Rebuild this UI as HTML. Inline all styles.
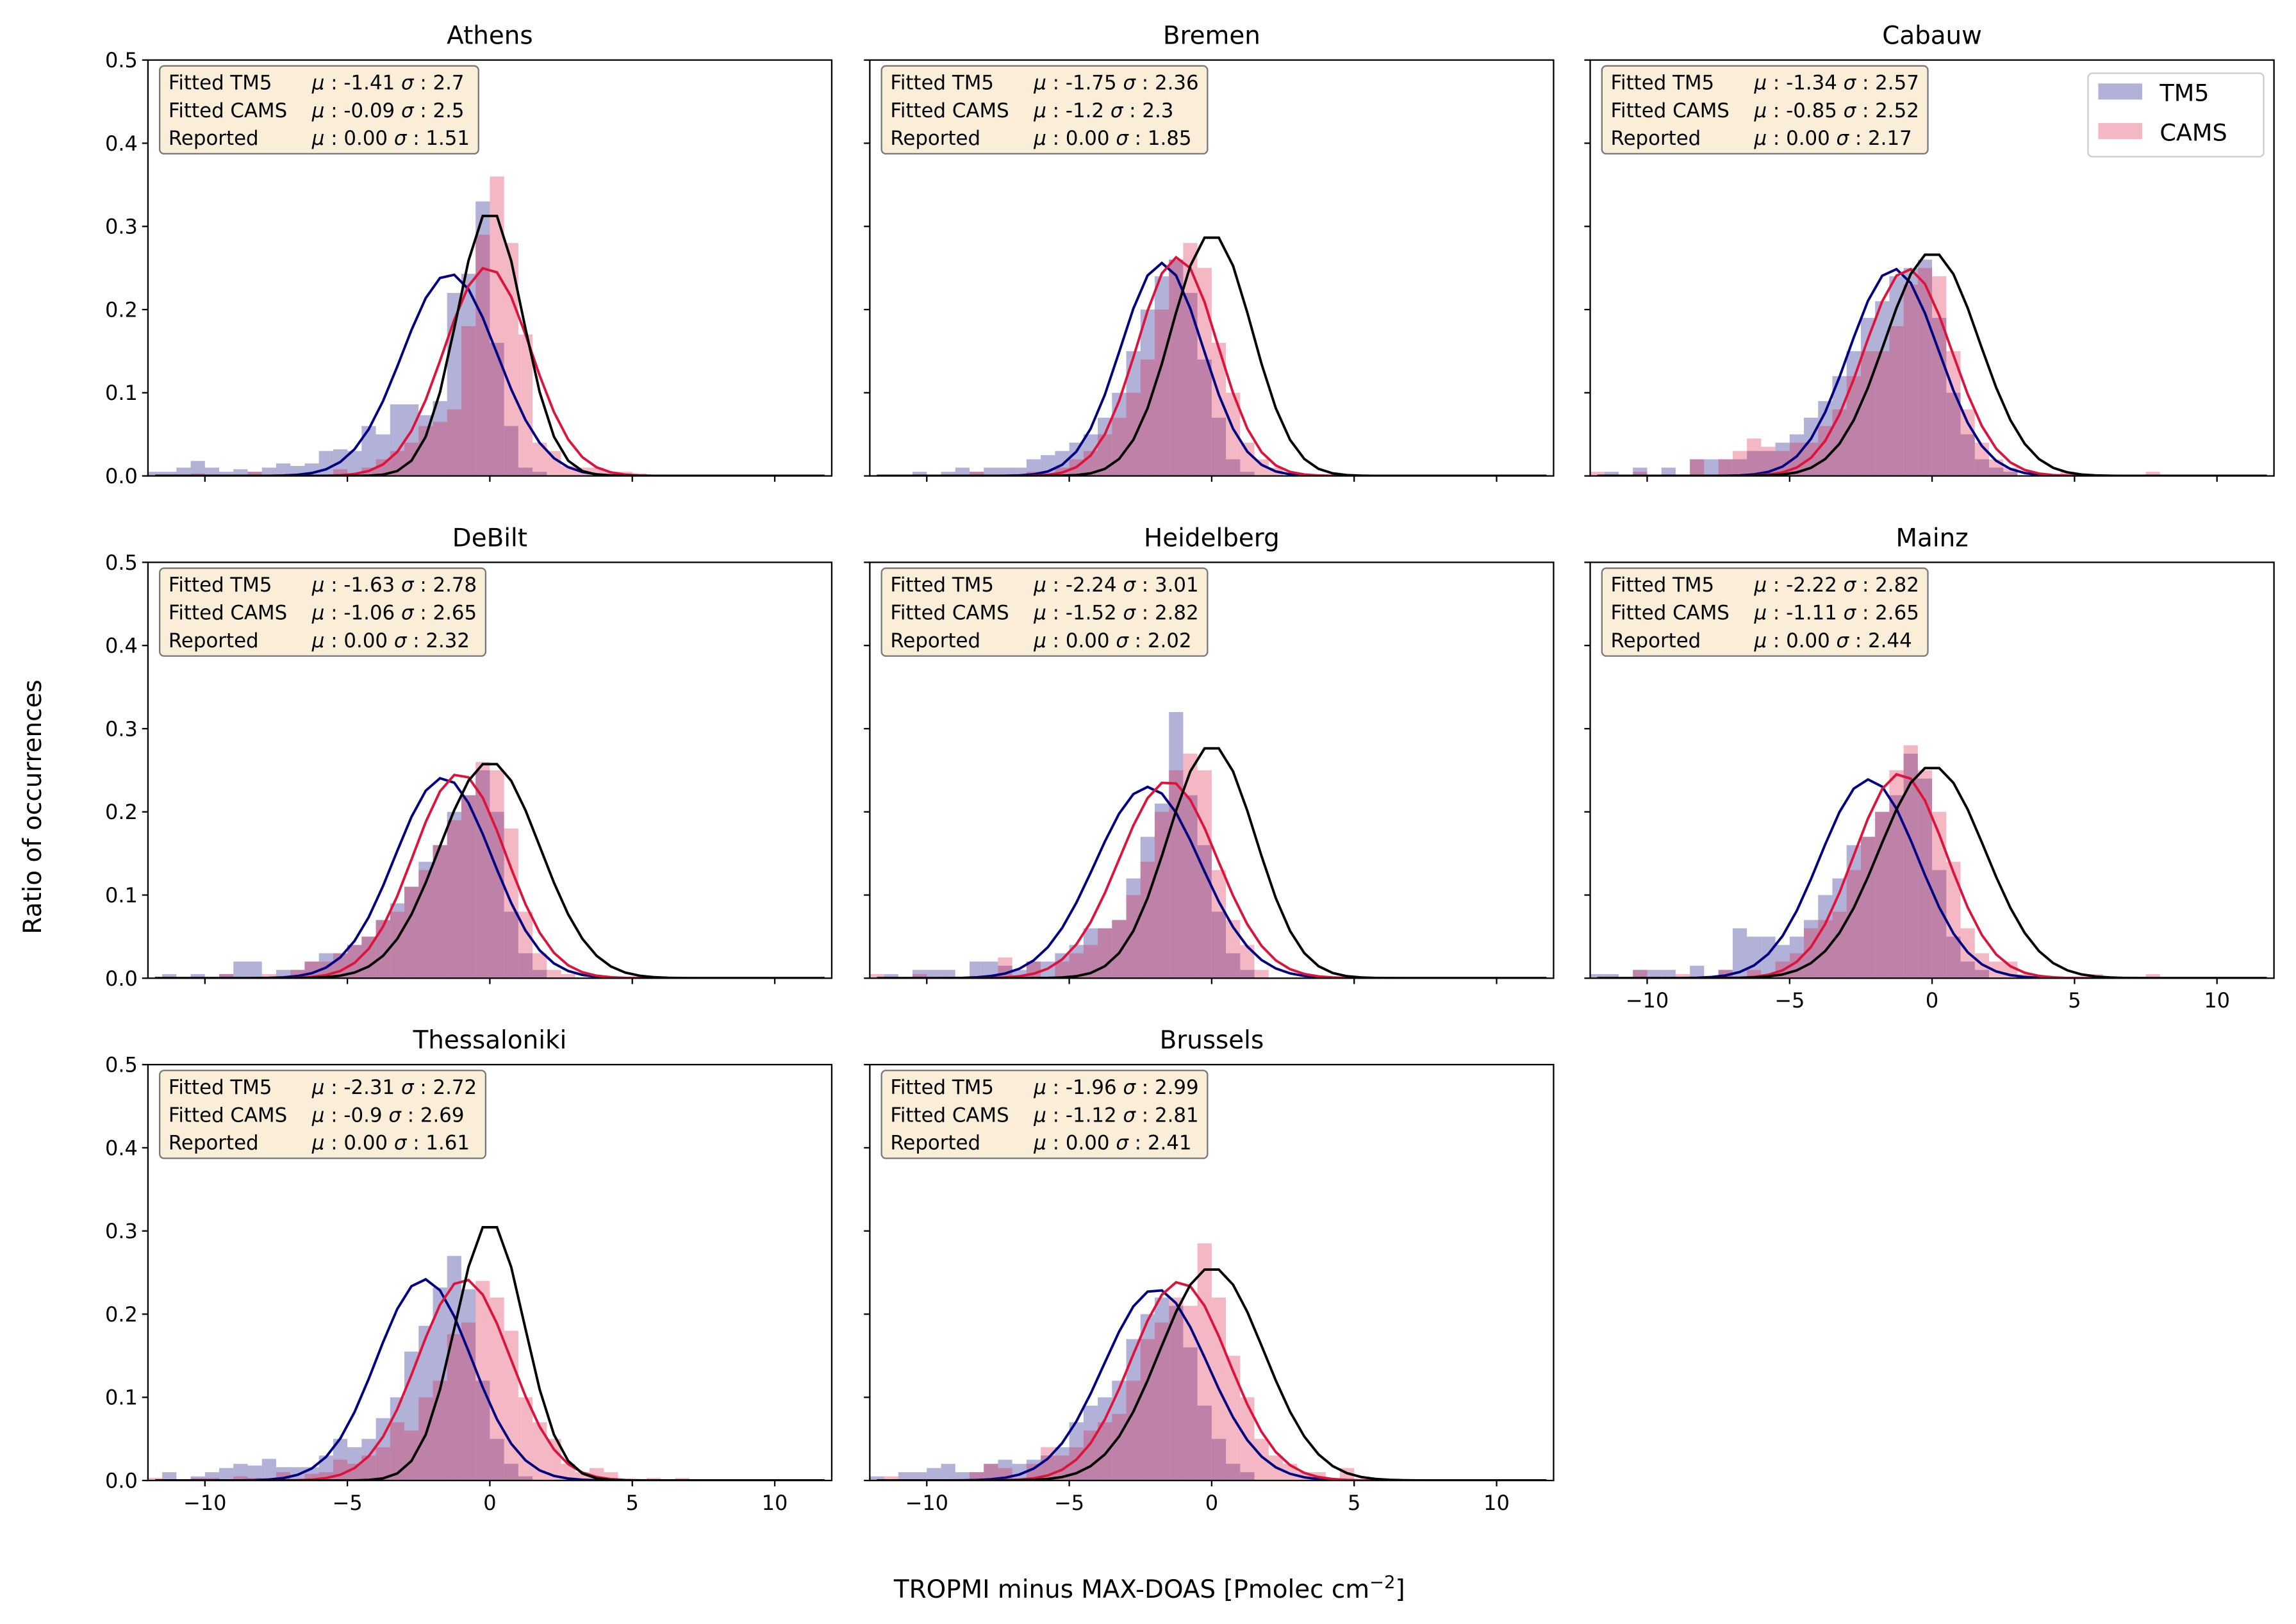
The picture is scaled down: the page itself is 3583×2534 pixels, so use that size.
<!DOCTYPE html>
<html><head><meta charset="utf-8">
<style>
html,body{margin:0;padding:0;background:#fff;}
svg{display:block;font-family:"DejaVu Sans","Liberation Sans",sans-serif;}
</style></head>
<body>
<svg id="chart" width="3583" height="2534" viewBox="0 0 1568 1109" xmlns="http://www.w3.org/2000/svg">
<rect x="0" y="0" width="1568" height="1109" fill="#fff"/>
<text x="28" y="551" font-size="17" text-anchor="middle" transform="rotate(-90 28 551)">Ratio of occurrences</text>
<text x="785" y="1091" font-size="17" text-anchor="middle">TROPMI minus MAX-DOAS [Pmolec cm<tspan baseline-shift="super" font-size="12">−2</tspan>]</text>
</svg>
<script>
// ---- data ----
const stations = ["Athens","Bremen","Cabauw","DeBilt","Heidelberg","Mainz","Thessaloniki","Brussels"];
const tm5Mu = [-1.41,-1.75,-1.34,-1.63,-2.24,-2.22,-2.31,-1.96];
const camsMu = [-0.09,-1.2,-0.85,-1.06,-1.52,-1.11,-0.9,-1.12];
const repMu = [0.00,0.00,0.00,0.00,0.00,0.00,0.00,0.00];
// curve widths
const tm5Width = [1.66,1.44,1.57,1.70,1.84,1.72,1.66,1.82];
const camsWidth = [1.52,1.40,1.54,1.62,1.72,1.62,1.63,1.71];
const repWidth = [1.15,1.41,1.65,1.76,1.54,1.85,1.21,1.83];
const tm5MuText = ["-1.41","-1.75","-1.34","-1.63","-2.24","-2.22","-2.31","-1.96"];
const tm5SigmaText = ["2.7","2.36","2.57","2.78","3.01","2.82","2.72","2.99"];
const camsMuText = ["-0.09","-1.2","-0.85","-1.06","-1.52","-1.11","-0.9","-1.12"];
const camsSigmaText = ["2.5","2.3","2.52","2.65","2.82","2.65","2.69","2.81"];
const repSigmaText = ["1.51","1.85","2.17","2.32","2.02","2.44","1.61","2.41"];
const tm5Peak = [0.243,0.256,0.249,0.241,0.230,0.239,0.242,0.230];
const camsPeak = [0.251,0.263,0.249,0.246,0.237,0.246,0.242,0.239];
const repPeak = [0.320,0.291,0.269,0.260,0.280,0.255,0.311,0.256];
const xTicks = [-10,-5,0,5,10];
const yTicks = [0.0,0.1,0.2,0.3,0.4,0.5];
const binWidth = 0.5;

// bin right edges and heights
const athensTm5X = [-11.5,-11,-10.5,-10,-9.5,-9,-8.5,-8,-7.5,-7,-6.5,-6,-5.5,-5,-4.5,-4,-3.5,-3,-2.5,-2,-1.5,-1,-0.5,0,0.5,1,1.5,2];
const athensTm5Y = [0.005,0.005,0.01,0.018,0.01,0.005,0.008,0.005,0.01,0.015,0.012,0.015,0.03,0.032,0.03,0.06,0.05,0.086,0.086,0.073,0.09,0.22,0.243,0.33,0.16,0.06,0.01,0.005];
const athensCamsX = [-10,-8,-5,-4,-3.5,-3,-2.5,-2,-1.5,-1,-0.5,0,0.5,1,1.5,2,2.5,3,3.5,4,4.5,5,5.5];
const athensCamsY = [0.003,0.005,0.008,0.01,0.02,0.03,0.04,0.06,0.065,0.08,0.18,0.29,0.36,0.28,0.17,0.04,0.03,0.012,0.01,0.01,0.005,0.005,0.003];
const bremenTm5X = [-10,-9,-8.5,-8,-7.5,-7,-6.5,-6,-5.5,-5,-4.5,-4,-3.5,-3,-2.5,-2,-1.5,-1,-0.5,0,0.5,1,1.5];
const bremenTm5Y = [0.005,0.005,0.01,0.005,0.01,0.01,0.01,0.02,0.025,0.03,0.04,0.05,0.07,0.10,0.15,0.20,0.24,0.26,0.22,0.14,0.07,0.02,0.005];
const bremenCamsX = [-8,-6,-5,-4.5,-4,-3.5,-3,-2.5,-2,-1.5,-1,-0.5,0,0.5,1,1.5,2,2.5];
const bremenCamsY = [0.005,0.005,0.01,0.02,0.03,0.05,0.07,0.10,0.14,0.20,0.26,0.28,0.25,0.16,0.10,0.04,0.02,0.01];
const cabauwTm5X = [-11,-10,-9,-8,-7.5,-7,-6.5,-6,-5.5,-5,-4.5,-4,-3.5,-3,-2.5,-2,-1.5,-1,-0.5,0,0.5,1,1.5,2,2.5,3];
const cabauwTm5Y = [0.005,0.01,0.01,0.02,0.02,0.02,0.02,0.03,0.03,0.04,0.05,0.07,0.09,0.12,0.15,0.19,0.21,0.24,0.25,0.26,0.19,0.10,0.05,0.02,0.01,0.005];
const cabauwCamsX = [-11.5,-10,-8,-7,-6.5,-6,-5.5,-5,-4.5,-4,-3.5,-3,-2.5,-2,-1.5,-1,-0.5,0,0.5,1,1.5,2,2.5,3,5,8];
const cabauwCamsY = [0.005,0.005,0.02,0.02,0.03,0.045,0.035,0.03,0.04,0.04,0.06,0.08,0.12,0.15,0.15,0.18,0.23,0.25,0.24,0.15,0.08,0.04,0.02,0.01,0.005,0.005];
const debiltTm5X = [-11,-10,-9,-8.5,-8,-7,-6.5,-6,-5.5,-5,-4.5,-4,-3.5,-3,-2.5,-2,-1.5,-1,-0.5,0,0.5,1,1.5,2];
const debiltTm5Y = [0.005,0.005,0.005,0.02,0.02,0.01,0.01,0.02,0.03,0.03,0.04,0.05,0.07,0.09,0.11,0.14,0.16,0.20,0.22,0.25,0.20,0.08,0.03,0.01];
const debiltCamsX = [-9,-7.5,-6.5,-6,-5.5,-5,-4.5,-4,-3.5,-3,-2.5,-2,-1.5,-1,-0.5,0,0.5,1,1.5,2,2.5,3];
const debiltCamsY = [0.005,0.005,0.01,0.02,0.02,0.03,0.04,0.05,0.07,0.08,0.11,0.13,0.16,0.19,0.22,0.26,0.25,0.18,0.08,0.03,0.01,0.005];
const heidelbergTm5X = [-11,-10,-9.5,-9,-8,-7.5,-7,-6.5,-6,-5.5,-5,-4.5,-4,-3.5,-3,-2.5,-2,-1.5,-1,-0.5,0,0.5,1,1.5];
const heidelbergTm5Y = [0.005,0.01,0.01,0.01,0.02,0.02,0.015,0.01,0.02,0.02,0.03,0.04,0.06,0.06,0.07,0.12,0.17,0.21,0.32,0.22,0.16,0.08,0.03,0.01];
const heidelbergCamsX = [-11.5,-10,-7,-6,-5,-4.5,-4,-3.5,-3,-2.5,-2,-1.5,-1,-0.5,0,0.5,1,1.5,2];
const heidelbergCamsY = [0.005,0.005,0.025,0.02,0.02,0.03,0.04,0.06,0.07,0.10,0.14,0.20,0.25,0.27,0.25,0.13,0.07,0.04,0.01];
const mainzTm5X = [-11.5,-11,-10,-9.5,-9,-8,-7,-6.5,-6,-5.5,-5,-4.5,-4,-3.5,-3,-2.5,-2,-1.5,-1,-0.5,0,0.5,1,1.5,2];
const mainzTm5Y = [0.005,0.005,0.01,0.01,0.01,0.015,0.01,0.06,0.05,0.05,0.04,0.05,0.07,0.10,0.12,0.16,0.17,0.20,0.22,0.27,0.24,0.13,0.05,0.02,0.01];
const mainzCamsX = [-10,-8.5,-7,-6,-5,-4.5,-4,-3.5,-3,-2.5,-2,-1.5,-1,-0.5,0,0.5,1,1.5,2,2.5,3,3.5,6,8];
const mainzCamsY = [0.01,0.005,0.01,0.01,0.02,0.03,0.06,0.07,0.08,0.13,0.17,0.20,0.25,0.28,0.25,0.20,0.14,0.06,0.03,0.02,0.02,0.005,0.005,0.005];
const thessTm5X = [-11,-10.5,-10,-9.5,-9,-8.5,-8,-7.5,-7,-6.5,-6,-5.5,-5,-4.5,-4,-3.5,-3,-2.5,-2,-1.5,-1,-0.5,0,0.5,1,1.5];
const thessTm5Y = [0.01,0.0,0.005,0.01,0.015,0.02,0.018,0.026,0.016,0.016,0.016,0.03,0.05,0.04,0.05,0.075,0.10,0.155,0.186,0.232,0.27,0.23,0.12,0.05,0.02,0.005];
const thessCamsX = [-11.5,-10,-9.5,-8.5,-8,-7,-6,-5.5,-5,-4.5,-4,-3.5,-3,-2.5,-2,-1.5,-1,-0.5,0,0.5,1,1.5,2,2.5,3,3.5,4,4.5,6,7];
const thessCamsY = [0.003,0.003,0.003,0.005,0.003,0.01,0.008,0.01,0.025,0.02,0.03,0.04,0.07,0.06,0.10,0.12,0.176,0.19,0.24,0.22,0.18,0.10,0.07,0.05,0.02,0.01,0.015,0.01,0.003,0.003];
const brusselsTm5X = [-11.5,-10.5,-10,-9.5,-9,-8.5,-8,-7.5,-7,-6.5,-6,-5.5,-5,-4.5,-4,-3.5,-3,-2.5,-2,-1.5,-1,-0.5,0,0.5,1,1.5];
const brusselsTm5Y = [0.005,0.01,0.01,0.015,0.02,0.01,0.01,0.02,0.025,0.02,0.025,0.03,0.04,0.07,0.09,0.10,0.12,0.17,0.20,0.22,0.21,0.16,0.09,0.05,0.02,0.01];
const brusselsCamsX = [-11,-8,-7.5,-7,-6,-5.5,-5,-4.5,-4,-3.5,-3,-2.5,-2,-1.5,-1,-0.5,0,0.5,1,1.5,2,2.5,3,3.5,4,5];
const brusselsCamsY = [0.005,0.01,0.02,0.015,0.02,0.04,0.03,0.04,0.06,0.07,0.08,0.12,0.17,0.19,0.22,0.21,0.285,0.22,0.15,0.10,0.05,0.03,0.02,0.01,0.01,0.015];

const tm5HistX = [athensTm5X,bremenTm5X,cabauwTm5X,debiltTm5X,heidelbergTm5X,mainzTm5X,thessTm5X,brusselsTm5X];
const tm5HistY = [athensTm5Y,bremenTm5Y,cabauwTm5Y,debiltTm5Y,heidelbergTm5Y,mainzTm5Y,thessTm5Y,brusselsTm5Y];
const camsHistX = [athensCamsX,bremenCamsX,cabauwCamsX,debiltCamsX,heidelbergCamsX,mainzCamsX,thessCamsX,brusselsCamsX];
const camsHistY = [athensCamsY,bremenCamsY,cabauwCamsY,debiltCamsY,heidelbergCamsY,mainzCamsY,thessCamsY,brusselsCamsY];

// ---- layout ----
const NS = "http://www.w3.org/2000/svg";
const svg = document.getElementById("chart");
const colX = [101, 594, 1086];
const rowY = [41, 384, 727];
const PW = 467, PH = 284;
const XMIN = -12, XMAX = 12, YMIN = 0, YMAX = 0.5;

function mk(tag, attrs, parent) {
  const e = document.createElementNS(NS, tag);
  for (const k in attrs) e.setAttribute(k, attrs[k]);
  (parent || svg).appendChild(e);
  return e;
}

stations.forEach((name, i) => {
  const c = i % 3, r = Math.floor(i / 3);
  const x0 = colX[c], y0 = rowY[r];
  const sx = v => x0 + (v - XMIN) / (XMAX - XMIN) * PW;
  const sy = v => y0 + PH - (v - YMIN) / (YMAX - YMIN) * PH;
  const g = mk("g", {});
  
  
  const clipId = "clip" + i;
  const cp = mk("clipPath", {id: clipId}, g);
  mk("rect", {x: x0, y: y0, width: PW, height: PH}, cp);
  const plot = mk("g", {"clip-path": "url(#" + clipId + ")"}, g);

  const drawHist = (xs, ys, color, label) => {
    xs.forEach((xr, k) => {
      const b = mk("rect", {x: sx(xr - binWidth), y: sy(ys[k]), width: sx(xr) - sx(xr - binWidth), height: sy(0) - sy(ys[k]), fill: color, "fill-opacity": 0.3}, plot);
      
      
    });
  };
  drawHist(tm5HistX[i], tm5HistY[i], "rgb(0,0,128)", "tm5");
  drawHist(camsHistX[i], camsHistY[i], "rgb(220,20,60)", "cams");

  const drawCurve = (mu, s, peak, color, label) => {
    let d = "";
    for (let x = XMIN + 0.25; x <= XMAX + 1e-9; x += binWidth) {
      const y = peak * Math.exp(-((x - mu) ** 2) / (2 * s * s));
      d += (d ? "L" : "M") + sx(x).toFixed(2) + "," + sy(y).toFixed(2);
    }
    const p = mk("path", {d: d, fill: "none", stroke: color, "stroke-width": 1.7, "stroke-linejoin": "miter"}, plot);
    
    
  };
  drawCurve(tm5Mu[i], tm5Width[i], tm5Peak[i], "navy", "tm5-fit");
  drawCurve(camsMu[i], camsWidth[i], camsPeak[i], "crimson", "cams-fit");
  drawCurve(repMu[i], repWidth[i], repPeak[i], "black", "reported");

  const fr = mk("rect", {x: x0, y: y0, width: PW, height: PH, fill: "none", stroke: "#000", "stroke-width": 1}, g);
  
  

  const t = mk("text", {x: x0 + PW / 2, y: y0 - 11, "font-size": 17, "text-anchor": "middle"}, g);
  t.textContent = name;
  
  

  const showX = (i === 5 || i === 6 || i === 7);
  xTicks.forEach(v => {
    mk("line", {x1: sx(v), x2: sx(v), y1: y0 + PH, y2: y0 + PH + 4, stroke: "#000", "stroke-width": 1}, g);
    if (showX) {
      const tl = mk("text", {x: sx(v), y: y0 + PH + 20, "font-size": 14, "text-anchor": "middle"}, g);
      tl.textContent = v < 0 ? "−" + Math.abs(v) : String(v);
      
      
    }
  });
  yTicks.forEach(v => {
    mk("line", {x1: x0 - 4, x2: x0, y1: sy(v), y2: sy(v), stroke: "#000", "stroke-width": 1}, g);
    if (c === 0) {
      const tl = mk("text", {x: x0 - 7, y: sy(v) + 5, "font-size": 14, "text-anchor": "end"}, g);
      tl.textContent = v.toFixed(1);
      
      
    }
  });

  const bg = mk("g", {}, g);
  
  
  const box = mk("rect", {x: x0 + 8, y: y0 + 4, width: 224, height: 60, rx: 3, fill: "rgb(245,222,179)", "fill-opacity": 0.5, stroke: "#777", "stroke-width": 1}, bg);
  const labels = ["Fitted TM5", "Fitted CAMS", "Reported"];
  const mus = [tm5MuText[i], camsMuText[i], "0.00"];
  const sigs = [tm5SigmaText[i], camsSigmaText[i], repSigmaText[i]];
  let maxR = 0;
  labels.forEach((lb, k) => {
    const yy = y0 + 20 + k * 19;
    const a = mk("text", {x: x0 + 14, y: yy, "font-size": 13.5}, bg);
    a.textContent = lb;
    const b = mk("text", {x: x0 + 112, y: yy, "font-size": 13.5}, bg);
    b.innerHTML = '<tspan font-style="italic">μ</tspan> : ' + mus[k] + ' <tspan font-style="italic">σ</tspan> : ' + sigs[k];
    maxR = Math.max(maxR, 112 + b.getComputedTextLength());
  });
  box.setAttribute("width", maxR - 8 + 6);

  if (i === 2) {
    const lg = mk("g", {}, g);
    
    
    mk("rect", {x: 1426, y: 50, width: 120, height: 57, rx: 3, fill: "#fff", "fill-opacity": 0.8, stroke: "#ccc", "stroke-width": 1}, lg);
    const ent = [["TM5", "rgb(0,0,128)"], ["CAMS", "rgb(220,20,60)"]];
    ent.forEach((e, k) => {
      const ey = 57 + k * 27;
      mk("rect", {x: 1433, y: ey, width: 30, height: 11, fill: e[1], "fill-opacity": 0.3}, lg);
      const tt = mk("text", {x: 1475, y: ey + 12, "font-size": 16}, lg);
      tt.textContent = e[0];
      
      
    });
  }
});
</script>
</body></html>
